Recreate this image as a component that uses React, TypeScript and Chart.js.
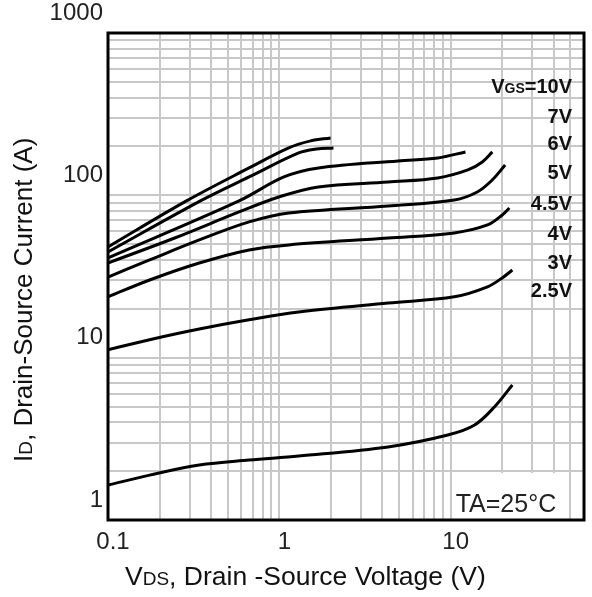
import React, { useEffect, useRef } from 'react';
import { Chart, registerables } from 'chart.js';

Chart.register(...registerables);

// Gate-source voltage of each curve
const seriesLabels = ['10V', '7V', '6V', '5V', '4.5V', '4V', '3V', '2.5V'];

// VDS (V) / ID (A) per curve
const vds10 = [0.1, 0.287, 0.666, 1.135, 1.523, 1.99];
const id10 = [48.1, 92.4, 147.5, 196, 216.4, 225.8];

const vds7 = [0.1, 0.355, 0.666, 1.297, 1.65, 2.07];
const id7 = [44.8, 93.7, 129.8, 182.5, 193.1, 196];

const vds6 = [0.1, 0.582, 1.063, 1.694, 4.93, 8.41, 12.2];
const id6 = [41.2, 92.4, 129.8, 147.5, 162.9, 170.0, 185.1];

const vds5 = [0.1, 0.245, 0.582, 0.993, 1.69, 4.31, 8.41, 12.6, 15.3, 17.5];
const id5 = [38.3, 54.6, 79.0, 97.7, 112.7, 120.9, 128, 143.4, 160.6, 185.1];

const vds45 = [0.1, 0.175, 0.341, 0.666, 1.135, 4.31, 10.5, 14.3, 17.5, 20.8];
const id45 = [31.4, 40.0, 53.1, 68.6, 77.9, 86.0, 93.7, 104.9, 124.4, 153.9];

const vds4 = [0.1, 0.175, 0.341, 0.666, 1.135, 4.31, 10.5, 16.4, 20.0, 22.0];
const id4 = [23.7, 30.1, 38.3, 46.1, 49.5, 54.6, 58.7, 65.7, 75.7, 83.6];

const vds3 = [0.1, 0.175, 0.341, 0.666, 1.297, 4.31, 10.5, 16.4, 20.0, 22.9];
const id3 = [11.2, 12.9, 15.0, 17.1, 19.1, 21.7, 23.7, 27.3, 31.0, 34.7];

const vds25 = [0.1, 0.175, 0.341, 0.666, 1.297, 4.31, 9.62, 13.8, 18.0, 22.9];
const id25 = [1.64, 1.89, 2.18, 2.34, 2.48, 2.82, 3.34, 3.85, 4.97, 6.79];

const curveX = [vds10, vds7, vds6, vds5, vds45, vds4, vds3, vds25];
const curveY = [id10, id7, id6, id5, id45, id4, id3, id25];

// axis ranges
const xRange = [0.1, 60];
const yRange = [1, 1000];

// current level (A) at which each VGS label sits
const labelLevels = [472, 308, 210, 139, 89.8, 58.7, 38.9, 26.1];

const tempNote = 'TA=25°C';
const FONT = "'Liberation Sans', Arial, Helvetica, sans-serif";

type Run = { text: string; size: number; bold?: boolean };

function runsWidth(ctx: CanvasRenderingContext2D, runs: Run[]) {
  let w = 0;
  for (const r of runs) {
    ctx.font = `${r.bold ? 'bold ' : ''}${r.size}px ${FONT}`;
    w += ctx.measureText(r.text).width;
  }
  return w;
}

function drawRuns(ctx: CanvasRenderingContext2D, runs: Run[], x: number, y: number) {
  let cx = x;
  ctx.textAlign = 'left';
  ctx.textBaseline = 'alphabetic';
  for (const r of runs) {
    ctx.font = `${r.bold ? 'bold ' : ''}${r.size}px ${FONT}`;
    ctx.fillText(r.text, cx, y);
    cx += ctx.measureText(r.text).width;
  }
}

function decadeLabel(value: number | string) {
  const v = Number(value);
  const l = Math.log10(v);
  if (Math.abs(l - Math.round(l)) < 1e-6) {
    return v < 1 ? String(Number(v.toFixed(1))) : String(Math.round(v));
  }
  return '';
}

function drop15(axis: any) {
  axis.ticks = axis.ticks.filter((t: any) => {
    const e = Math.floor(Math.log10(t.value) + 1e-9);
    const s = t.value / Math.pow(10, e);
    return Math.abs(s - 1.5) > 1e-6;
  });
}

const decorPlugin = {
  id: 'decor',
  beforeDatasetsDraw(chart: any) {
    const { ctx, chartArea: ca, scales } = chart;
    const xs = scales.x;
    const ys = scales.y;
    // white box behind the temperature note
    ctx.save();
    ctx.fillStyle = '#fff';
    const bx0 = xs.getPixelForValue(10) + 2;
    const bx1 = xs.getPixelForValue(50) - 2;
    const by0 = ys.getPixelForValue(2) + 2;
    ctx.fillRect(bx0, by0, bx1 - bx0, ca.bottom - by0);
    ctx.restore();
  },
  afterDraw(chart: any) {
    const { ctx, chartArea: ca, scales } = chart;
    const xs = scales.x;
    const ys = scales.y;
    ctx.save();
    // frame
    ctx.strokeStyle = '#000';
    ctx.lineWidth = 3;
    ctx.strokeRect(ca.left, ca.top, ca.right - ca.left, ca.bottom - ca.top);

    // temperature note
    ctx.fillStyle = '#222';
    drawRuns(ctx, [{ text: tempNote, size: 25 }], xs.getPixelForValue(10) + 5, ca.bottom - 8);

    // VGS labels
    ctx.fillStyle = '#111';
    const rx = ca.right - 12;
    labelLevels.forEach((lvl, i) => {
      const cy = ys.getPixelForValue(lvl);
      const runs: Run[] =
        i === 0
          ? [
              { text: 'V', size: 20, bold: true },
              { text: 'GS', size: 14, bold: true },
              { text: '=' + seriesLabels[i], size: 20, bold: true },
            ]
          : [{ text: seriesLabels[i], size: 20, bold: true }];
      const w = runsWidth(ctx, runs);
      drawRuns(ctx, runs, rx - w, cy + 7);
    });

    // axis titles
    ctx.fillStyle = '#111';
    drawRuns(
      ctx,
      [
        { text: 'V', size: 26.5 },
        { text: 'DS', size: 19 },
        { text: ', Drain -Source Voltage (V)', size: 26.5 },
      ],
      ca.left + 17,
      ca.bottom + 65
    );
    ctx.translate(ca.left - 76, ca.bottom - 58);
    ctx.rotate(-Math.PI / 2);
    drawRuns(
      ctx,
      [
        { text: 'I', size: 26 },
        { text: 'D', size: 19 },
        { text: ', Drain-Source Current (A)', size: 26 },
      ],
      0,
      0
    );
    ctx.restore();
  },
};

export default function App() {
  const ref = useRef<HTMLCanvasElement>(null);

  useEffect(() => {
    const canvas = ref.current;
    if (!canvas) return;
    const datasets = curveX.map((xs, i) => ({
      label: seriesLabels[i],
      data: xs.map((v, j) => ({ x: v, y: curveY[i][j] })),
      borderColor: '#000',
      backgroundColor: '#000',
      borderWidth: 3,
      pointRadius: 0,
      tension: 0.35,
      fill: false,
    }));

    const tickFont = { family: FONT, size: 24 };
    const chart = new Chart(canvas, {
      type: 'line',
      data: { datasets },
      options: {
        animation: false,
        responsive: false,
        layout: { padding: { left: 8, top: 33, right: 2, bottom: 0 } },
        plugins: { legend: { display: false }, tooltip: { enabled: false } },
        scales: {
          x: {
            type: 'logarithmic',
            min: xRange[0],
            max: xRange[1],
            afterFit: (a: any) => {
              a.height = 77;
            },
            afterBuildTicks: drop15,
            grid: { color: '#c8c8c8', lineWidth: 2, drawTicks: false },
            border: { display: false },
            ticks: {
              autoSkip: false,
              maxRotation: 0,
              minRotation: 0,
              padding: 8,
              labelOffset: 5,
              color: '#222',
              font: tickFont,
              callback: decadeLabel,
            },
          },
          y: {
            type: 'logarithmic',
            min: yRange[0],
            max: yRange[1],
            afterFit: (a: any) => {
              a.width = 100;
            },
            afterBuildTicks: drop15,
            grid: { color: '#c8c8c8', lineWidth: 2, drawTicks: false },
            border: { display: false },
            ticks: {
              autoSkip: false,
              padding: 5,
              labelOffset: -20,
              color: '#222',
              font: tickFont,
              callback: decadeLabel,
            },
          },
        },
      } as any,
      plugins: [decorPlugin],
    });
    return () => chart.destroy();
  }, []);

  return (
    <div style={{ position: 'fixed', left: 0, top: 0, width: 592, height: 597, background: '#fff' }}>
      <canvas ref={ref} width={592} height={597} style={{ display: 'block' }} />
    </div>
  );
}
